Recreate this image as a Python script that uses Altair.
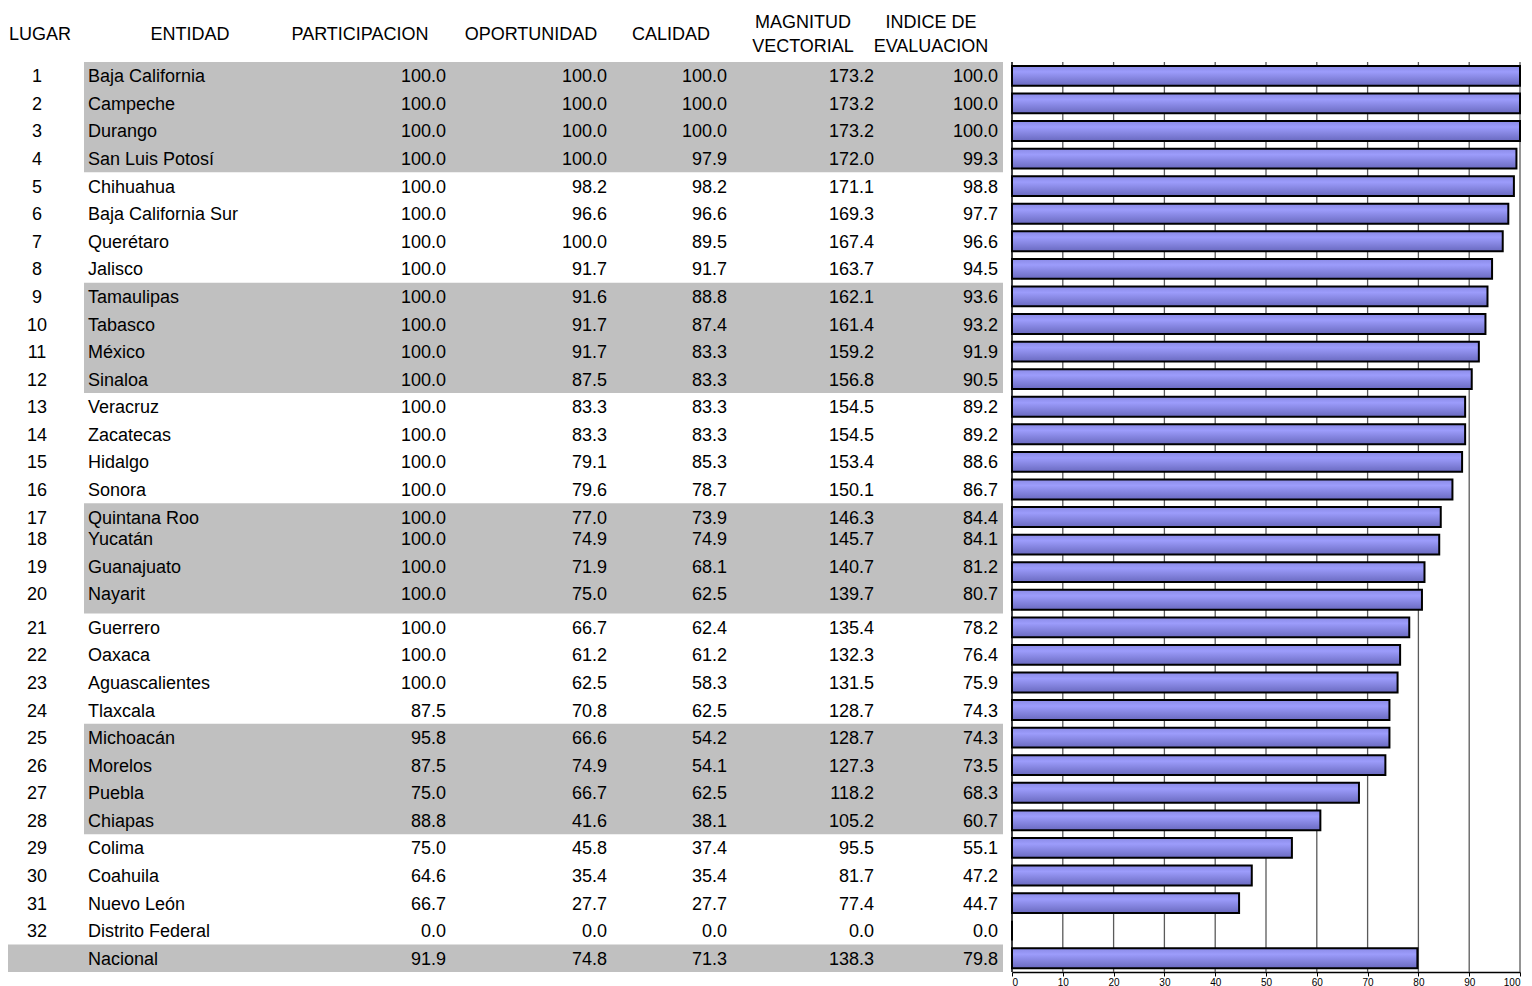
import altair as alt
import pandas as pd

lugar = [str(i) for i in range(1, 33)] + [""]
entidad = ["Baja California", "Campeche", "Durango", "San Luis Potosí", "Chihuahua",
           "Baja California Sur", "Querétaro", "Jalisco", "Tamaulipas", "Tabasco",
           "México", "Sinaloa", "Veracruz", "Zacatecas", "Hidalgo", "Sonora",
           "Quintana Roo", "Yucatán", "Guanajuato", "Nayarit", "Guerrero", "Oaxaca",
           "Aguascalientes", "Tlaxcala", "Michoacán", "Morelos", "Puebla", "Chiapas",
           "Colima", "Coahuila", "Nuevo León", "Distrito Federal", "Nacional"]
participacion = [100.0, 100.0, 100.0, 100.0, 100.0, 100.0, 100.0, 100.0, 100.0, 100.0,
                 100.0, 100.0, 100.0, 100.0, 100.0, 100.0, 100.0, 100.0, 100.0, 100.0,
                 100.0, 100.0, 100.0, 87.5, 95.8, 87.5, 75.0, 88.8, 75.0, 64.6,
                 66.7, 0.0, 91.9]
oportunidad = [100.0, 100.0, 100.0, 100.0, 98.2, 96.6, 100.0, 91.7, 91.6, 91.7,
               91.7, 87.5, 83.3, 83.3, 79.1, 79.6, 77.0, 74.9, 71.9, 75.0,
               66.7, 61.2, 62.5, 70.8, 66.6, 74.9, 66.7, 41.6, 45.8, 35.4,
               27.7, 0.0, 74.8]
calidad = [100.0, 100.0, 100.0, 97.9, 98.2, 96.6, 89.5, 91.7, 88.8, 87.4,
           83.3, 83.3, 83.3, 83.3, 85.3, 78.7, 73.9, 74.9, 68.1, 62.5,
           62.4, 61.2, 58.3, 62.5, 54.2, 54.1, 62.5, 38.1, 37.4, 35.4,
           27.7, 0.0, 71.3]
magnitud = [173.2, 173.2, 173.2, 172.0, 171.1, 169.3, 167.4, 163.7, 162.1, 161.4,
            159.2, 156.8, 154.5, 154.5, 153.4, 150.1, 146.3, 145.7, 140.7, 139.7,
            135.4, 132.3, 131.5, 128.7, 128.7, 127.3, 118.2, 105.2, 95.5, 81.7,
            77.4, 0.0, 138.3]
indice = [100.0, 100.0, 100.0, 99.3, 98.8, 97.7, 96.6, 94.5, 93.6, 93.2,
          91.9, 90.5, 89.2, 89.2, 88.6, 86.7, 84.4, 84.1, 81.2, 80.7,
          78.2, 76.4, 75.9, 74.3, 74.3, 73.5, 68.3, 60.7, 55.1, 47.2,
          44.7, 0.0, 79.8]
ticks = list(range(0, 101, 10))

df = pd.DataFrame({
    "fila": list(range(1, len(entidad) + 1)),
    "lugar": lugar,
    "entidad": entidad,
    "participacion": participacion,
    "oportunidad": oportunidad,
    "calidad": calidad,
    "magnitud": magnitud,
    "indice": indice,
})
df_ticks = pd.DataFrame({"t": ticks})

FONT = "Liberation Sans"
FS = 18
H = 964
YDOM = [-1.46, 33.5]
yscale = alt.Scale(domain=YDOM, reverse=True, nice=False, zero=False)

base = alt.Chart(df).transform_calculate(
    ytxt="datum.fila - ((datum.fila >= 18 && datum.fila <= 20) ? 0.22 : 0)",
)

# grey bands, one block per group of four rows
bands = alt.Chart(df).transform_filter(
    "datum.fila <= 32 && (floor((datum.fila - 1) / 4) % 2 == 0)"
).transform_calculate(
    grupo="floor((datum.fila - 1) / 4)"
).transform_aggregate(
    fmin="min(fila)", fmax="max(fila)", groupby=["grupo"]
).transform_calculate(
    y0="datum.fmin - 0.5", y1="datum.fmax + 0.5"
).mark_rect(color="#C0C0C0").encode(
    x=alt.value(76), x2=alt.value(995),
    y=alt.Y("y0:Q", scale=yscale, axis=None), y2="y1:Q",
)
band_nac = alt.Chart(df).transform_filter("datum.fila == 33").transform_calculate(
    y0="datum.fila - 0.5", y1="datum.fila + 0.5"
).mark_rect(color="#C0C0C0").encode(
    x=alt.value(0), x2=alt.value(995),
    y=alt.Y("y0:Q", scale=yscale, axis=None), y2="y1:Q",
)

cols = [
    ("lugar", None, 29, "center"),
    ("entidad", None, 80, "left"),
    ("participacion", ".1f", 438, "right"),
    ("oportunidad", ".1f", 599, "right"),
    ("calidad", ".1f", 719, "right"),
    ("magnitud", ".1f", 866, "right"),
    ("indice", ".1f", 990, "right"),
]
layers = [bands, band_nac]
for field, fmt, xpos, align in cols:
    txt = alt.Text(f"{field}:Q", format=fmt) if fmt else alt.Text(f"{field}:N")
    layers.append(
        base.mark_text(font=FONT, fontSize=FS, align=align, baseline="middle",
                       color="black", dy=1.5).encode(
            x=alt.value(xpos),
            y=alt.Y("ytxt:Q", scale=yscale, axis=None),
            text=txt,
        )
    )

headers = [
    ("LUGAR", 32), ("ENTIDAD", 182), ("PARTICIPACION", 352), ("OPORTUNIDAD", 523),
    ("CALIDAD", 663), ("MAGNITUD\nVECTORIAL", 795), ("INDICE DE\nEVALUACION", 923),
]
for label, xpos in headers:
    nlines = label.count("\n") + 1
    yh = -0.552 - (nlines - 1) * 12 / 27.58
    layers.append(
        alt.Chart(df_ticks).transform_filter("datum.t == 0").transform_calculate(
            yh=str(yh)
        ).mark_text(
            font=FONT, fontSize=FS, align="center", baseline="middle", color="black",
            lineBreak="\n", lineHeight=24, dy=1.5,
        ).encode(
            x=alt.value(xpos),
            y=alt.Y("yh:Q", scale=yscale, axis=None),
            text=alt.value(label),
        )
    )

table = alt.layer(*layers).properties(width=1004, height=H)

# bar panel
xscale = alt.Scale(domain=[0, 100], nice=False, zero=True)
grid = alt.Chart(df_ticks).transform_filter("datum.t > 0").transform_calculate(
    ga="0.5", gb="33.5"
).mark_rule(color="#5a5a5a", strokeWidth=1.3).encode(
    x=alt.X("t:Q", scale=xscale,
            axis=alt.Axis(values=ticks, grid=False, domain=True, domainColor="black",
                          domainWidth=1.5, ticks=True, tickColor="black", tickSize=4,
                          labelFont=FONT, labelFontSize=10, labelColor="black",
                          labelPadding=1, title=None)),
    y=alt.Y("ga:Q", scale=yscale, axis=None), y2="gb:Q",
)
left_line = alt.Chart(df_ticks).transform_filter("datum.t == 0").transform_calculate(
    ga="0.5", gb="33.5"
).mark_rule(color="black", strokeWidth=1.5).encode(
    x=alt.X("t:Q", scale=xscale),
    y=alt.Y("ga:Q", scale=yscale, axis=None), y2="gb:Q",
)
grad = alt.Gradient(
    gradient="linear",
    stops=[
        alt.GradientStop(color="#8a8ae6", offset=0),
        alt.GradientStop(color="#9c9cfb", offset=0.3),
        alt.GradientStop(color="#6a6ac0", offset=1),
    ],
    x1=0, x2=0, y1=0, y2=1,
)
bars = base.transform_calculate(
    b0="datum.fila - 0.36", b1="datum.fila + 0.36", zero="0"
).mark_rect(color=grad, stroke="black", strokeWidth=2, opacity=1).encode(
    x=alt.X("zero:Q", scale=xscale), x2="indice:Q",
    y=alt.Y("b0:Q", scale=yscale, axis=None), y2="b1:Q",
)
barchart = alt.layer(grid, left_line, bars).properties(width=508, height=H)

chart = alt.hconcat(table, barchart, spacing=0, bounds="flush").properties(
    padding=0
).configure_view(stroke=None)

chart.save("out.html", embed_options={"renderer": "svg", "actions": False})
